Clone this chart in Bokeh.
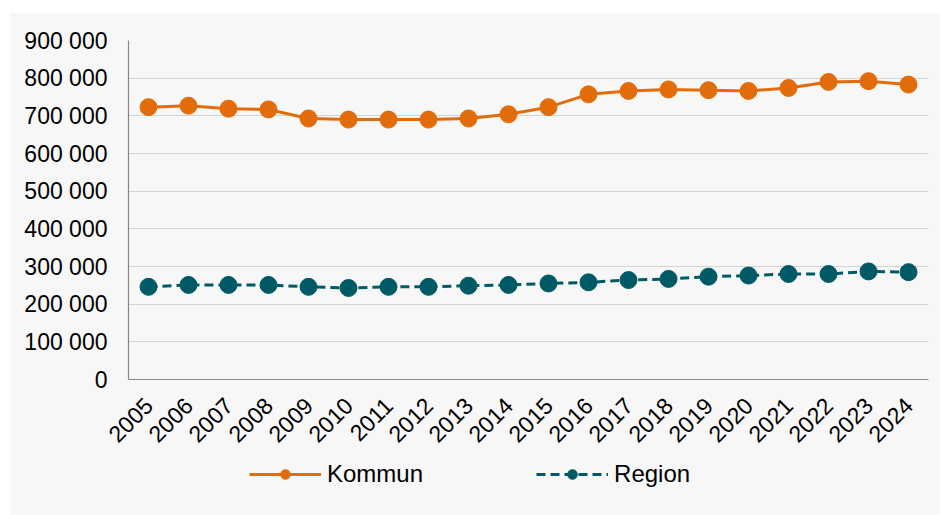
from math import pi
from bokeh.plotting import figure
from bokeh.layouts import column
from bokeh.models import Legend, LegendItem, CustomJSTickFormatter, Range1d, FixedTicker
from bokeh.embed import file_html
from bokeh.resources import INLINE

years = [str(y) for y in range(2005, 2025)]
kommun = [723000, 727000, 719000, 717000, 693000, 690000, 690000, 690000, 693000, 704000,
          723000, 757000, 766000, 770000, 768000, 766000, 774000, 790000, 792000, 783000]
region = [246000, 251000, 251000, 251000, 246000, 243000, 246000, 246000, 249000, 251000,
          255000, 258000, 264000, 267000, 273000, 276000, 280000, 280000, 287000, 285000]
y_ticks = [0, 100000, 200000, 300000, 400000, 500000, 600000, 700000, 800000, 900000]
series_names = ["Kommun", "Region"]

ORANGE = "#E36C0A"
TEAL = "#005A66"
BG = "#F7F7F7"
FONT = "Liberation Sans"

p = figure(x_range=years, y_range=Range1d(0, 900000), width=930, height=442,
           output_backend="svg", toolbar_location=None,
           min_border_left=118, min_border_right=12, min_border_top=27, min_border_bottom=76,
           background_fill_color=BG, border_fill_color=BG, outline_line_color=None)

p.line(years, kommun, line_color=ORANGE, line_width=3)
p.scatter(years, kommun, size=17, fill_color=ORANGE, line_color=ORANGE)
p.line(years, region, line_color=TEAL, line_width=3, line_dash="9 5")
p.scatter(years, region, size=17, fill_color=TEAL, line_color=TEAL)

p.xgrid.grid_line_color = None
p.ygrid.grid_line_color = "#D4D4D4"
p.ygrid.grid_line_width = 1.2

p.yaxis.ticker = FixedTicker(ticks=y_ticks)
p.yaxis.formatter = CustomJSTickFormatter(code="return tick.toFixed(0).replace(/\\B(?=(\\d{3})+(?!\\d))/g, ' ');")
for ax in (p.xaxis[0], p.yaxis[0]):
    ax.axis_line_color = "#888888"
    ax.axis_line_width = 1.2
    ax.major_tick_line_color = None
    ax.minor_tick_line_color = None
    ax.major_tick_out = 0
    ax.major_tick_in = 0
    ax.major_label_text_font = FONT
    ax.major_label_text_font_size = "23px"
    ax.major_label_text_color = "#000000"
p.yaxis.major_label_standoff = 21
p.xaxis.major_label_orientation = pi / 4
p.xaxis.major_label_standoff = 22

# legend strip below the chart (its renderers lie outside its view; only the legend shows)
idx = list(range(len(years)))
p2 = figure(x_range=Range1d(0, 930), y_range=Range1d(0, 60), width=930, height=60,
            output_backend="svg", toolbar_location=None,
            x_axis_location=None, y_axis_location=None,
            min_border_left=0, min_border_right=0, min_border_top=0, min_border_bottom=0,
            background_fill_color=BG, border_fill_color=BG, outline_line_color=None)
p2.grid.visible = False
l1 = p2.line(idx, kommun, line_color=ORANGE, line_width=3)
m1 = p2.scatter(idx, kommun, fill_color=ORANGE, line_color=ORANGE)
l2 = p2.line(idx, region, line_color=TEAL, line_width=3, line_dash="9 5")
m2 = p2.scatter(idx, region, fill_color=TEAL, line_color=TEAL)

legend = Legend(items=[LegendItem(label=series_names[0], renderers=[l1, m1]),
                       LegendItem(label=series_names[1], renderers=[l2, m2])],
                orientation="horizontal", location=(121, 27),
                background_fill_alpha=0, border_line_color=None,
                label_text_font=FONT, label_text_font_size="24px", label_text_color="#000000",
                glyph_width=72, glyph_height=24, spacing=113, padding=4, margin=0,
                label_standoff=6)
p2.add_layout(legend, "center")

layout = column(p, p2, spacing=0, margin=(13, 0, 0, 10), styles={"background-color": BG})
open("out.html", "w").write(file_html(layout, INLINE))
